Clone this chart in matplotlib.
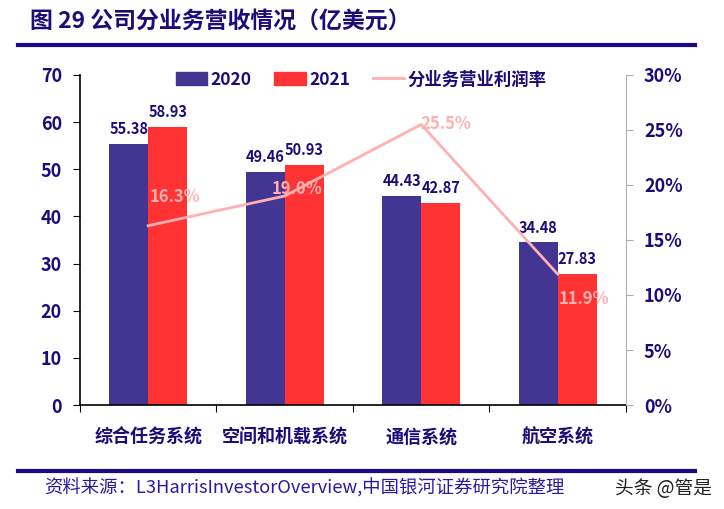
import matplotlib.pyplot as plt
import numpy as np
from matplotlib.lines import Line2D
from matplotlib.patches import Patch

plt.rcParams['font.family'] = ['Noto Sans CJK SC', 'DejaVu Sans']

categories = ['综合任务系统', '空间和机载系统', '通信系统', '航空系统']
rev_2020 = [55.38, 49.46, 44.43, 34.48]
rev_2021 = [58.93, 50.93, 42.87, 27.83]
margin = [16.3, 19.0, 25.5, 11.9]   # 分业务营业利润率, %
# label offsets (points) for the margin labels
margin_offsets = [(19, 21), (9, 5), (18, 0), (19, -18)]

navy = '#1b0c7a'
c2020 = '#433693'
c2021 = '#ff3333'
cline = '#ffb0b0'

fig = plt.figure(figsize=(7.24, 5.09), dpi=100)
ax = fig.add_axes([0.1105, 0.2043, 0.754, 0.6484])
ax2 = ax.twinx()

x = np.arange(len(categories))
w = 0.286
b1 = ax.bar(x - w / 2, rev_2020, w, color=c2020)
b2 = ax.bar(x + w / 2, rev_2021, w, color=c2021)
for bars in (b1, b2):
    for r in bars:
        ax.annotate(f'{r.get_height():.2f}', (r.get_x() + r.get_width() / 2, r.get_height()),
                    xytext=(0, 5), textcoords='offset points', ha='center', va='bottom',
                    fontsize=10.5, fontweight='bold', color=navy)

ax2.plot(x, margin, color=cline, lw=2)
for xi, m, off in zip(x, margin, margin_offsets):
    ax2.annotate(f'{m:.1f}%', (xi, m), xytext=off, textcoords='offset points',
                 ha='center', va='center', fontsize=12, fontweight='bold', color=cline)

ax.set_xlim(-0.5, 3.5)
ax.set_ylim(0, 70)
ax.set_yticks(range(0, 71, 10))
ax2.set_ylim(0, 30)
ax2.set_yticks(range(0, 31, 5))
ax2.set_yticklabels([f'{v}%' for v in range(0, 31, 5)])

ax.set_xticks([-0.5, 0.5, 1.5, 2.5, 3.5])
ax.set_xticklabels([])
ax.set_xticks(x, minor=True)
ax.set_xticklabels(categories, minor=True)
ax.tick_params(axis='x', which='minor', length=0, pad=16)
ax.tick_params(axis='x', which='major', length=5, direction='out', color='black')

for lab in ax.get_xticklabels(minor=True):
    lab.set_fontsize(13)
    lab.set_fontweight('bold')
    lab.set_color(navy)
ax.tick_params(axis='y', length=5, color='black', pad=8)
for lab in ax.get_yticklabels():
    lab.set_fontsize(13)
    lab.set_fontweight('bold')
    lab.set_color(navy)
ax2.tick_params(axis='y', length=5, color='#b0b0b0', pad=8)
for lab in ax2.get_yticklabels():
    lab.set_fontsize(13)
    lab.set_fontweight('bold')
    lab.set_color(navy)

for a in (ax, ax2):
    a.spines['top'].set_visible(False)
ax.spines['right'].set_visible(False)
ax2.spines['left'].set_visible(False)
ax2.spines['bottom'].set_visible(False)
ax2.spines['right'].set_color('#b0b0b0')
ax.spines['left'].set_linewidth(1.2)
ax.spines['bottom'].set_linewidth(1.2)

handles = [Patch(color=c2020), Patch(color=c2021), Line2D([], [], color=cline, lw=2)]
leg = ax.legend(handles, ['2020', '2021', '分业务营业利润率'], ncol=3, loc='upper center',
                bbox_to_anchor=(0.515, 1.06), frameon=False, handlelength=1.8,
                handleheight=0.8, columnspacing=1.3, handletextpad=0.2,
                prop={'size': 12.5, 'weight': 'bold'})
for t in leg.get_texts():
    t.set_color(navy)

fig.text(30 / 724, 1 - 22 / 509, '图 29 公司分业务营收情况（亿美元）', fontsize=16.5,
         fontweight='bold', color=navy, va='center', ha='left')
fig.add_artist(Line2D([18 / 724, 695 / 724], [1 - 45 / 509] * 2, color='#1a0a8a', lw=3))
fig.add_artist(Line2D([18 / 724, 695 / 724], [1 - 471 / 509] * 2, color='#1a0a8a', lw=3))
fig.text(44 / 724, 1 - 488 / 509, '资料来源：L3HarrisInvestorOverview,中国银河证券研究院整理',
         fontsize=13.2, style='italic', color='#2a1aa0', va='center', ha='left')
fig.text(615 / 724, 1 - 488 / 509, '头条 @管是', fontsize=13.5, color='#222222',
         va='center', ha='left')

fig.savefig('out.png', dpi=100)
